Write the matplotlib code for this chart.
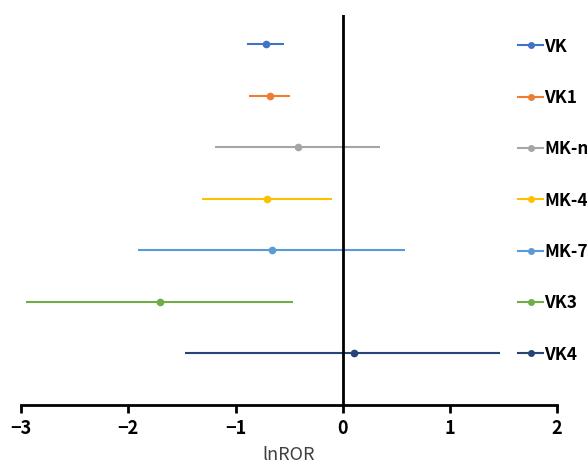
import matplotlib
matplotlib.use('Agg')
import matplotlib.pyplot as plt
from matplotlib.lines import Line2D

plt.rcParams['font.family'] = ['Noto Sans CJK JP', 'DejaVu Sans']
plt.rcParams['axes.unicode_minus'] = True

# data
names = ['VK', 'VK1', 'MK-n', 'MK-4', 'MK-7', 'VK3', 'VK4']
est = [-0.72, -0.68, -0.42, -0.71, -0.66, -1.70, 0.11]
lower = [-0.89, -0.87, -1.19, -1.31, -1.91, -2.95, -1.47]
upper = [-0.55, -0.49, 0.35, -0.10, 0.58, -0.46, 1.47]
colors = ['#4472C4', '#ED7D31', '#A5A5A5', '#FFC000', '#5B9BD5', '#70AD47', '#264478']
xticks = [-3, -2, -1, 0, 1, 2]

fig = plt.figure(figsize=(5.87, 4.68), dpi=100)
ax = fig.add_axes([0.036, 0.135, 0.913, 0.833])

n = len(names)
handles = []
for i, (nm, e, lo, hi, c) in enumerate(zip(names, est, lower, upper, colors)):
    y = n - i
    ax.errorbar([e], [y], xerr=[[e - lo], [hi - e]], fmt='o', color=c,
                ecolor=c, elinewidth=1.5, capsize=0, markersize=4.5)
    handles.append(Line2D([0], [0], color=c, lw=1.5, marker='o', markersize=4))

ax.axvline(0, color='black', lw=2)
ax.set_xlim(-3, 2)
ax.set_ylim(0, 7.57)
ax.set_xticks(xticks)
ax.set_yticks([])
for s in ['left', 'right', 'top']:
    ax.spines[s].set_visible(False)
ax.spines['bottom'].set_linewidth(2)
ax.tick_params(axis='x', length=6, width=2, labelsize=13, pad=4)
for lab in ax.get_xticklabels():
    lab.set_fontweight('bold')
ax.set_xlabel('lnROR', fontsize=13, color='#404040', labelpad=6)

leg = ax.legend(handles, names, loc='upper left', bbox_to_anchor=(0.915, 0.96),
                frameon=False, handlelength=1.4, handletextpad=0.1,
                labelspacing=1.92, borderaxespad=0,
                prop={'weight': 'bold', 'size': 12.5})

fig.savefig('out.png', dpi=100)
